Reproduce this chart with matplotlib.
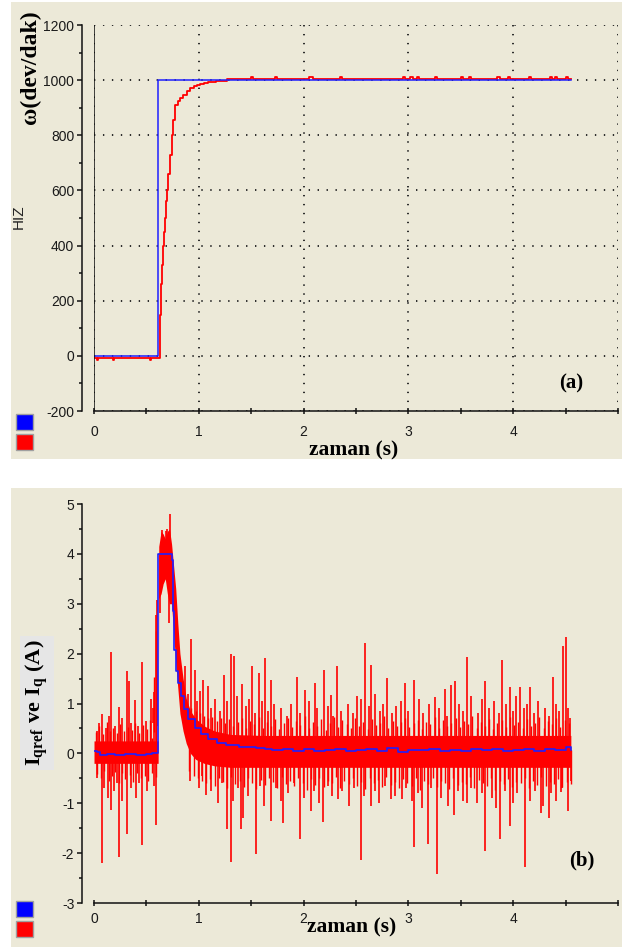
import matplotlib
matplotlib.use('Agg')
import matplotlib.pyplot as plt
import numpy as np
from matplotlib.patches import Rectangle
from matplotlib.ticker import MultipleLocator, FixedLocator

# ---------------- (a) speed response ----------------
speed_ref_t = [0.0, 0.615, 4.55]
speed_ref = [0, 1000, 1000]

speed_t = [0.0, 0.03, 0.04, 0.18, 0.19, 0.53, 0.54,
           0.625, 0.63, 0.635, 0.645, 0.655, 0.665, 0.675, 0.685, 0.695,
           0.71, 0.725, 0.74, 0.757, 0.773,
           0.80, 0.82, 0.85, 0.885, 0.92, 0.95, 0.98, 1.01, 1.05, 1.09, 1.16, 1.27,
           1.50, 1.52, 1.73, 1.75, 2.05, 2.09, 2.35, 2.37, 2.95, 2.97, 3.02, 3.04,
           3.08, 3.10, 3.25, 3.27, 3.50, 3.52, 3.58, 3.60, 3.85, 3.87, 3.95, 3.97,
           4.15, 4.17, 4.35, 4.37, 4.40, 4.42, 4.50, 4.52, 4.55]
speed = [-6, -14, -6, -14, -6, -14, -6,
         30, 150, 260, 330, 400, 450, 500, 560, 600,
         660, 730, 800, 855, 910,
         925, 935, 945, 960, 970, 977, 982, 986, 990, 993, 996, 1004,
         1012, 1004, 1012, 1004, 1012, 1004, 1012, 1004, 1012, 1004, 1012, 1004,
         1012, 1004, 1012, 1004, 1012, 1004, 1012, 1004, 1012, 1004, 1012, 1004,
         1012, 1004, 1012, 1004, 1012, 1004, 1012, 1004, 1004]

# ---------------- (b) q-axis current ----------------
iq_ref_t = [0.0, 0.03, 0.06, 0.12, 0.20, 0.30, 0.40, 0.50, 0.55,
            0.615,
            0.745, 0.755, 0.765, 0.78, 0.80, 0.83, 0.86, 0.90, 0.96, 1.02,
            1.09, 1.17, 1.26, 1.38, 1.55, 1.63,
            1.70, 1.80, 1.90, 2.00, 2.10, 2.20, 2.30, 2.40, 2.50, 2.60,
            2.70, 2.80, 2.90, 3.00, 3.10, 3.20, 3.30, 3.40, 3.50, 3.60,
            3.70, 3.80, 3.90, 4.00, 4.10, 4.20, 4.30, 4.40, 4.50, 4.55]
iq_ref = [0.04, 0.02, -0.03, -0.01, -0.03, -0.02, -0.03, -0.02, 0.00,
          4.0,
          3.88, 2.85, 2.07, 1.65, 1.42, 1.15, 0.88, 0.68, 0.51, 0.38,
          0.28, 0.21, 0.17, 0.13, 0.10, 0.08,
          0.06, 0.09, 0.05, 0.08, 0.04, 0.07, 0.09, 0.05, 0.06, 0.08,
          0.05, 0.10, 0.03, 0.07, 0.06, 0.09, 0.05, 0.07, 0.04, 0.08,
          0.06, 0.09, 0.05, 0.07, 0.08, 0.04, 0.09, 0.06, 0.12, 0.07]

# dense core of the measured current (lower / upper envelope)
band_t = [0.0, 0.30, 0.612, 0.618, 0.64, 0.66, 0.68, 0.70, 0.72, 0.74, 0.76,
          0.78, 0.80, 0.82, 0.85, 0.88, 0.92, 0.97, 1.05, 1.15, 1.30, 1.60, 4.55]
band_lo = [-0.2, -0.2, -0.2, 3.1, 3.2, 3.4, 3.5, 3.2, 3.0, 3.0, 2.4,
           1.8, 1.3, 0.8, 0.45, 0.2, 0.0, -0.12, -0.2, -0.25, -0.28, -0.28, -0.28]
band_hi = [0.25, 0.25, 0.25, 4.15, 4.45, 4.4, 4.3, 4.45, 4.5, 4.2, 3.75,
           3.3, 2.6, 2.0, 1.5, 1.1, 0.85, 0.7, 0.55, 0.45, 0.38, 0.36, 0.36]

# tall spikes of the measured current (time, tip value)
spike_up_t = [0.03, 0.05, 0.076, 0.11, 0.14, 0.165, 0.20, 0.239, 0.27, 0.315, 0.33,
              0.35, 0.388, 0.42, 0.461, 0.50, 0.541, 0.56, 0.60,
              0.65, 0.69, 0.70, 0.725,
              0.871, 0.90, 0.929, 0.961, 0.98, 1.01, 1.04, 1.088, 1.12, 1.15, 1.20,
              1.24, 1.27, 1.304, 1.336, 1.36, 1.415, 1.45, 1.48, 1.511, 1.54,
              1.571, 1.60, 1.628, 1.66, 1.686, 1.72, 1.78, 1.84, 1.88, 1.934,
              1.97, 2.016, 2.05, 2.105, 2.13, 2.194, 2.23, 2.265, 2.28, 2.315,
              2.36, 2.42, 2.47, 2.513, 2.55, 2.589, 2.62, 2.640, 2.68, 2.73,
              2.76, 2.799, 2.84, 2.88, 2.93, 2.971, 3.00, 3.053, 3.10, 3.14,
              3.20, 3.257, 3.29, 3.346, 3.37, 3.410, 3.441, 3.48, 3.52, 3.562,
              3.60, 3.66, 3.70, 3.728, 3.77, 3.82, 3.86, 3.893, 3.93, 3.966,
              4.00, 4.03, 4.065, 4.10, 4.13, 4.157, 4.20, 4.24, 4.30, 4.34,
              4.380, 4.41, 4.44, 4.475, 4.507, 4.523, 4.54]
spike_up = [0.45, 0.6, 0.78, 0.5, 0.75, 2.03, 0.55, 0.93, 0.7, 1.65, 1.45,
            0.6, 1.08, 0.55, 1.83, 0.65, 1.09, 0.9, 0.55,
            4.47, 4.45, 4.5, 4.79,
            1.75, 1.2, 2.30, 1.67, 1.05, 1.25, 1.48, 1.35, 0.9, 1.1, 0.85,
            1.58, 1.05, 2.00, 1.96, 1.15, 1.40, 0.95, 1.1, 1.75, 0.8,
            1.62, 1.05, 1.92, 0.85, 1.48, 1.0, 0.9, 0.75, 1.0, 1.54,
            0.8, 1.28, 1.05, 1.42, 0.9, 1.67, 0.95, 1.18, 0.75, 1.76,
            0.85, 1.0, 0.8, 1.16, 1.1, 2.22, 0.95, 1.78, 1.2, 0.85,
            1.0, 1.52, 0.8, 0.95, 1.05, 1.42, 0.85, 1.48, 1.1, 0.8,
            1.0, 1.14, 0.9, 1.30, 0.75, 1.38, 1.45, 1.0, 0.85, 1.94,
            1.15, 0.8, 1.1, 1.45, 0.9, 1.05, 0.8, 1.87, 1.0, 1.34,
            0.85, 1.15, 1.34, 0.9, 1.0, 1.34, 0.8, 1.05, 0.9, 0.75,
            1.54, 1.0, 0.85, 2.15, 2.33, 0.91, 0.7]

spike_dn_t = [0.03, 0.076, 0.10, 0.13, 0.165, 0.19, 0.22, 0.239, 0.27, 0.315,
              0.35, 0.40, 0.43, 0.461, 0.51, 0.57, 0.595,
              0.63, 0.72,
              0.92, 1.00, 1.03, 1.07, 1.12, 1.18, 1.22, 1.272, 1.304, 1.33, 1.37,
              1.399, 1.422, 1.47, 1.542, 1.58, 1.62, 1.686, 1.74, 1.78, 1.807,
              1.85, 1.91, 1.963, 2.00, 2.068, 2.10, 2.15, 2.188, 2.23, 2.27,
              2.328, 2.37, 2.43, 2.48, 2.551, 2.58, 2.640, 2.68, 2.72, 2.78,
              2.831, 2.87, 2.939, 2.98, 3.03, 3.053, 3.09, 3.13, 3.187, 3.22,
              3.276, 3.31, 3.38, 3.435, 3.47, 3.52, 3.562, 3.60, 3.65, 3.70,
              3.728, 3.80, 3.84, 3.877, 3.92, 3.966, 4.00, 4.04, 4.110, 4.16,
              4.21, 4.262, 4.28, 4.339, 4.36, 4.41, 4.453, 4.47, 4.52, 4.549]
spike_dn = [-0.5, -2.19, -0.7, -0.9, -1.14, -0.75, -0.6, -2.08, -0.95, -1.62,
            -0.7, -0.9, -0.6, -1.84, -0.75, -0.65, -1.44,
            2.82, 2.62,
            -0.55, -0.7, -0.45, -0.84, -0.75, -0.99, -0.6, -1.52, -2.18, -0.95, -0.7,
            -1.52, -1.29, -0.85, -2.02, -0.65, -1.05, -1.36, -0.7, -0.95, -1.39,
            -0.8, -0.6, -1.71, -0.9, -1.16, -0.75, -1.0, -1.38, -0.65, -0.85,
            -0.92, -0.75, -1.05, -0.7, -2.14, -0.85, -1.06, -0.75, -1.0, -0.65,
            -0.92, -0.85, -0.92, -0.7, -0.95, -1.87, -0.8, -1.1, -1.81, -0.7,
            -2.41, -0.9, -1.05, -1.24, -0.75, -0.95, -0.99, -0.7, -1.0, -0.8,
            -1.96, -0.9, -1.1, -1.71, -0.75, -1.46, -1.0, -0.8, -2.28, -0.95,
            -0.75, -1.19, -1.05, -1.29, -0.8, -0.95, -0.78, -0.7, -1.15, -0.55]

# small ripple peaks around the core (time, tip value)
ripple_up_t = [0.015, 0.045, 0.085, 0.12, 0.155, 0.185, 0.215, 0.25, 0.285, 0.32,
               0.36, 0.395, 0.43, 0.47, 0.505, 0.53, 0.575,
               0.89, 0.93, 0.97, 1.01, 1.05, 1.09, 1.13, 1.17, 1.21, 1.25,
               1.29, 1.33, 1.37, 1.41, 1.45, 1.49, 1.53, 1.57, 1.61, 1.65,
               1.69, 1.73, 1.77, 1.81, 1.85, 1.89, 1.93, 1.97, 2.01, 2.05,
               2.09, 2.13, 2.17, 2.21, 2.25, 2.29, 2.33, 2.37, 2.41, 2.45,
               2.49, 2.53, 2.57, 2.61, 2.65, 2.69, 2.73, 2.77, 2.81, 2.85,
               2.89, 2.93, 2.97, 3.01, 3.05, 3.09, 3.13, 3.17, 3.21, 3.25,
               3.29, 3.33, 3.37, 3.41, 3.45, 3.49, 3.53, 3.57, 3.61, 3.65,
               3.69, 3.73, 3.77, 3.81, 3.85, 3.89, 3.93, 3.97, 4.01, 4.05,
               4.09, 4.13, 4.17, 4.21, 4.25, 4.29, 4.33, 4.37, 4.41, 4.45,
               4.49, 4.53]
ripple_up = [0.42, 0.55, 0.38, 0.62, 0.45, 0.5, 0.4, 0.58, 0.44, 0.52,
             0.47, 0.6, 0.41, 0.56, 0.48, 0.66, 0.43,
             0.95, 0.9, 0.85, 0.8, 0.75, 0.7, 0.72, 0.65, 0.7, 0.6,
             0.68, 0.55, 0.62, 0.7, 0.5, 0.65, 0.58, 0.72, 0.5, 0.62,
             0.55, 0.68, 0.48, 0.6, 0.7, 0.52, 0.64, 0.57, 0.75, 0.5,
             0.62, 0.55, 0.68, 0.47, 0.6, 0.72, 0.53, 0.66, 0.58, 0.5,
             0.7, 0.55, 0.63, 0.48, 0.68, 0.57, 0.6, 0.74, 0.5, 0.65,
             0.55, 0.62, 0.7, 0.52, 0.6, 0.67, 0.49, 0.63, 0.58, 0.72,
             0.5, 0.66, 0.55, 0.6, 0.7, 0.52, 0.64, 0.58, 0.75, 0.5,
             0.62, 0.55, 0.69, 0.48, 0.6, 0.66, 0.53, 0.72, 0.57, 0.62,
             0.5, 0.68, 0.55, 0.6, 0.73, 0.5, 0.64, 0.58, 0.7, 0.52,
             0.66, 0.6]

ripple_dn_t = [0.03, 0.065, 0.10, 0.14, 0.17, 0.20, 0.235, 0.265, 0.30, 0.34,
               0.375, 0.41, 0.45, 0.49, 0.52, 0.555, 0.59,
               0.91, 0.95, 0.99, 1.03, 1.07, 1.11, 1.15, 1.19, 1.23, 1.27,
               1.31, 1.35, 1.39, 1.43, 1.47, 1.51, 1.55, 1.59, 1.63, 1.67,
               1.71, 1.75, 1.79, 1.83, 1.87, 1.91, 1.95, 1.99, 2.03, 2.07,
               2.11, 2.15, 2.19, 2.23, 2.27, 2.31, 2.35, 2.39, 2.43, 2.47,
               2.51, 2.55, 2.59, 2.63, 2.67, 2.71, 2.75, 2.79, 2.83, 2.87,
               2.91, 2.95, 2.99, 3.03, 3.07, 3.11, 3.15, 3.19, 3.23, 3.27,
               3.31, 3.35, 3.39, 3.43, 3.47, 3.51, 3.55, 3.59, 3.63, 3.67,
               3.71, 3.75, 3.79, 3.83, 3.87, 3.91, 3.95, 3.99, 4.03, 4.07,
               4.11, 4.15, 4.19, 4.23, 4.27, 4.31, 4.35, 4.39, 4.43, 4.47,
               4.51, 4.55]
ripple_dn = [-0.42, -0.5, -0.36, -0.55, -0.45, -0.38, -0.6, -0.4, -0.52, -0.44,
             -0.58, -0.39, -0.5, -0.46, -0.55, -0.4, -0.48,
             -0.35, -0.45, -0.5, -0.55, -0.6, -0.52, -0.65, -0.5, -0.58, -0.7,
             -0.48, -0.62, -0.55, -0.68, -0.5, -0.6, -0.72, -0.53, -0.64, -0.5,
             -0.58, -0.7, -0.47, -0.62, -0.55, -0.66, -0.5, -0.6, -0.74, -0.52,
             -0.63, -0.5, -0.68, -0.56, -0.6, -0.48, -0.7, -0.55, -0.62, -0.5,
             -0.66, -0.58, -0.72, -0.5, -0.6, -0.54, -0.68, -0.48, -0.63, -0.57,
             -0.7, -0.52, -0.6, -0.65, -0.5, -0.74, -0.56, -0.62, -0.49, -0.67,
             -0.55, -0.6, -0.71, -0.5, -0.64, -0.57, -0.62, -0.48, -0.69, -0.54,
             -0.6, -0.66, -0.5, -0.73, -0.56, -0.62, -0.51, -0.68, -0.58, -0.6,
             -0.5, -0.7, -0.55, -0.63, -0.48, -0.66, -0.57, -0.61, -0.52, -0.68,
             -0.58, -0.62]

W, H = 622, 947
BG = '#ECE9D8'
BLUE = '#1f1fff'
RED = '#ff0000'
SANS = 'Liberation Sans'
SERIF = 'Liberation Serif'

plt.rcParams['axes.unicode_minus'] = False
plt.rcParams['mathtext.fontset'] = 'custom'
plt.rcParams['mathtext.rm'] = 'Liberation Serif:bold'
plt.rcParams['mathtext.bf'] = 'Liberation Serif:bold'
plt.rcParams['mathtext.it'] = 'Liberation Serif:bold'

fig = plt.figure(figsize=(W / 100, H / 100), dpi=100, facecolor='white')


def px_rect(x, y, w, h, **kw):
    # rectangle given in pixel coords (top-left origin)
    return Rectangle((x / W, 1 - (y + h) / H), w / W, h / H,
                     transform=fig.transFigure, figure=fig, **kw)


def px_axes(x0, y_top, x1, y_bot):
    return fig.add_axes([x0 / W, 1 - y_bot / H, (x1 - x0) / W, (y_bot - y_top) / H])


# panel backgrounds (behind the axes)
fig.patches.append(px_rect(11, 2, 611, 457, facecolor=BG, edgecolor='none', zorder=-5))
fig.patches.append(px_rect(11, 488, 611, 459, facecolor=BG, edgecolor='none', zorder=-5))

# colour swatches (legend boxes)
for y0 in (414, 901):
    fig.patches.append(px_rect(16, y0, 17, 16, facecolor='#0000ff', edgecolor='#a0a0a0', lw=1))
    fig.patches.append(px_rect(16, y0 + 20, 17, 16, facecolor='#ff0000', edgecolor='#a0a0a0', lw=1))


def style_axes(ax, xpad):
    ax.set_facecolor('none')
    ax.spines['top'].set_visible(False)
    ax.spines['right'].set_visible(False)
    ax.spines['left'].set_position(('outward', 8.6))
    for s in ('left', 'bottom'):
        ax.spines[s].set_linewidth(1.1)
        ax.spines[s].set_color('#111111')
    ax.set_xlim(0, 5)
    ax.xaxis.set_major_locator(FixedLocator([0, 1, 2, 3, 4, 5]))
    ax.set_xticklabels(['0', '1', '2', '3', '4', ''])
    ax.xaxis.set_minor_locator(MultipleLocator(0.5))
    ax.tick_params(axis='x', which='both', direction='inout', length=5, width=1.1,
                   color='#111111', pad=xpad)
    ax.tick_params(axis='y', which='major', direction='out', length=3.6, width=1.1,
                   color='#111111', pad=2)
    ax.tick_params(axis='y', which='minor', direction='out', length=2.5, width=1.1,
                   color='#111111')
    for lab in ax.get_xticklabels() + ax.get_yticklabels():
        lab.set_fontfamily(SANS)
        lab.set_fontsize(10)
        lab.set_color('#1a1a1a')


# ---------------- top panel ----------------
ax1 = px_axes(94, 25, 618, 411)
ax1.set_ylim(-200, 1200)
ax1.yaxis.set_major_locator(MultipleLocator(200))
ax1.yaxis.set_minor_locator(MultipleLocator(100))
style_axes(ax1, xpad=7.5)
ax1.grid(True, which='major', linestyle=(0, (0.7, 3.9)), color='#2a2a2a', lw=1.4, zorder=1)
ax1.set_axisbelow(True)
ax1.axvline(0, color='#111111', lw=1.1, zorder=4)
ax1.plot(speed_t, speed, drawstyle='steps-post', color=RED, lw=1.3, zorder=2)
ax1.plot(speed_ref_t, speed_ref, drawstyle='steps-post', color=BLUE, lw=1.1, zorder=3)

# ---------------- bottom panel ----------------
ax2 = px_axes(94, 504, 618, 903)
ax2.set_ylim(-3, 5)
ax2.yaxis.set_major_locator(MultipleLocator(1))
ax2.yaxis.set_minor_locator(MultipleLocator(0.5))
style_axes(ax2, xpad=4.3)
ax2.fill_between(band_t, band_lo, band_hi, color=RED, lw=0, zorder=2)
for ts, vs, lw in ((spike_up_t, spike_up, 1.2), (spike_dn_t, spike_dn, 1.2),
                   (ripple_up_t, ripple_up, 1.0), (ripple_dn_t, ripple_dn, 1.0)):
    base = np.interp(ts, iq_ref_t, iq_ref)
    ax2.vlines(ts, base, vs, color=RED, lw=lw, zorder=2)
ax2.plot(iq_ref_t, iq_ref, drawstyle='steps-post', color=BLUE, lw=1.2, zorder=3)

# ---------------- texts ----------------
fig.text(30 / W, 1 - 67 / H, 'ω(dev/dak)', rotation=90, ha='center', va='center',
         fontfamily=SERIF, fontweight='bold', fontsize=17)
fig.text(19 / W, 1 - 217 / H, 'HIZ', rotation=90, ha='center', va='center',
         fontfamily=SANS, fontsize=11, color='#222222')
fig.text(354 / W, 1 - 450 / H, 'zaman (s)', ha='center', va='center',
         fontfamily=SERIF, fontweight='bold', fontsize=15.5)
fig.text(571 / W, 1 - 383 / H, '(a)', ha='center', va='center',
         fontfamily=SERIF, fontweight='bold', fontsize=15)

fig.text(37 / W, 1 - 703 / H, r'$\mathbf{I_{qref}\ ve\ I_q\ (A)}$', rotation=90,
         ha='center', va='center', fontsize=16,
         bbox=dict(facecolor='#e6e6e6', edgecolor='none', pad=3))
fig.text(352 / W, 1 - 927 / H, 'zaman (s)', ha='center', va='center',
         fontfamily=SERIF, fontweight='bold', fontsize=15.5)
fig.text(582 / W, 1 - 860 / H, '(b)', ha='center', va='center',
         fontfamily=SERIF, fontweight='bold', fontsize=15)

fig.savefig('out.png', dpi=100, facecolor='white')
